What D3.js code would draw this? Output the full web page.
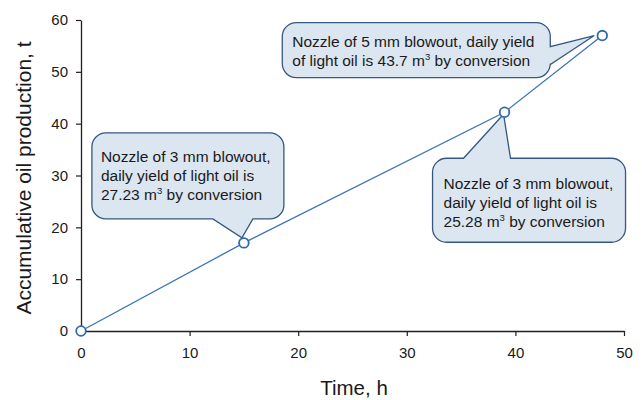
<!DOCTYPE html>
<html><head><meta charset="utf-8">
<script src="https://cdn.jsdelivr.net/npm/d3@7"></script>
<style>body{margin:0;background:#fff}svg{display:block}text{font-family:"Liberation Sans",Arial,sans-serif;fill:#1a1a1a}</style>
</head><body>
<script>
const timeH = [0, 15, 39, 48];
const oilT = [0, 17, 42.2, 57];
const xTicks = [0, 10, 20, 30, 40, 50];
const yTicks = [0, 10, 20, 30, 40, 50, 60];
const xLabel = "Time, h";
const yLabel = "Accumulative oil production, t";
const notes = [
  {i: 1, lines: ["Nozzle of 3 mm blowout,", "daily yield of light oil is", ["27.23 m", "3", " by conversion"]]},
  {i: 2, lines: ["Nozzle of 3 mm blowout,", "daily yield of light oil is", ["25.28 m", "3", " by conversion"]]},
  {i: 3, lines: ["Nozzle of 5 mm blowout, daily yield", ["of light oil is 43.7 m", "3", " by conversion"]]}
];
// callout layout (pixel offsets relative to anchor point)
const layout = {
  1: {box: [-152, -110, 40, -24], side: "bottom", base: [-31, 9], tip: [-2, -5], tdx: 9, tdy: 29},
  2: {box: [-72, 46, 121, 130], side: "top", base: [-41, 6], tip: [-1, 2], tdx: 11, tdy: 31},
  3: {box: [-320, -13, -52, 42], side: "right", base: [11, 29], tip: [-8, 0], tdx: 10, tdy: 24}
};

const W = 642, H = 400;
const svg = d3.select("body").append("svg").attr("width", W).attr("height", H);
const x = d3.scaleLinear().domain([0, 50]).range([81, 624]);
const y = d3.scaleLinear().domain([0, 60]).range([331, 20]);

const axisColor = "#231f20";
const gx = svg.append("g").attr("transform", "translate(0,331)")
  .call(d3.axisBottom(x).tickValues(xTicks).tickSize(5).tickSizeOuter(0).tickPadding(11));
const gy = svg.append("g").attr("transform", "translate(81,0)")
  .call(d3.axisLeft(y).tickValues(yTicks).tickSize(5).tickSizeOuter(0).tickPadding(8));
[gx, gy].forEach(g => {
  g.select(".domain").attr("stroke", axisColor).attr("stroke-width", 1.3);
  g.selectAll(".tick line").attr("stroke", axisColor).attr("stroke-width", 1.2);
  g.selectAll(".tick text").attr("font-size", 15).attr("font-family", "Liberation Sans, Arial, sans-serif").attr("fill", "#1a1a1a");
});

svg.append("text").attr("x", 354).attr("y", 395).attr("text-anchor", "middle")
  .attr("font-size", 20.5).text(xLabel);
svg.append("text").attr("transform", "translate(31,178) rotate(-90)").attr("text-anchor", "middle")
  .attr("font-size", 21).text(yLabel);

const data = timeH.map((t, i) => ({t, v: oilT[i]}));
const lineColor = "#3a74b7";
svg.append("path").datum(data)
  .attr("d", d3.line().x(d => x(d.t)).y(d => y(d.v)))
  .attr("fill", "none").attr("stroke", lineColor).attr("stroke-width", 1.3);

function calloutPath(px, py, L) {
  const [a, b, c, d] = L.box;
  const x0 = px + a, y0 = py + b, x1 = px + c, y1 = py + d, r = 14;
  const tx = px + L.tip[0], ty = py + L.tip[1];
  const p = d3.path();
  p.moveTo(x0 + r, y0);
  if (L.side === "top") { p.lineTo(px + L.base[0], y0); p.lineTo(tx, ty); p.lineTo(px + L.base[1], y0); }
  p.lineTo(x1 - r, y0); p.arcTo(x1, y0, x1, y0 + r, r);
  if (L.side === "right") { p.lineTo(x1, py + L.base[0]); p.lineTo(tx, ty); p.lineTo(x1, py + L.base[1]); }
  p.lineTo(x1, y1 - r); p.arcTo(x1, y1, x1 - r, y1, r);
  if (L.side === "bottom") { p.lineTo(px + L.base[1], y1); p.lineTo(tx, ty); p.lineTo(px + L.base[0], y1); }
  p.lineTo(x0 + r, y1); p.arcTo(x0, y1, x0, y1 - r, r);
  p.lineTo(x0, y0 + r); p.arcTo(x0, y0, x0 + r, y0, r);
  p.closePath();
  return p.toString();
}

notes.forEach(n => {
  const d = data[n.i], L = layout[n.i];
  const px = x(d.t), py = y(d.v);
  svg.append("path").attr("d", calloutPath(px, py, L))
    .attr("fill", "#dce6f1").attr("stroke", "#34587f").attr("stroke-width", 1.3);
  const tx = px + L.box[0] + L.tdx;
  const ty0 = py + L.box[1] + L.tdy;
  const txt = svg.append("text").attr("font-size", 15.5);
  n.lines.forEach((ln, k) => {
    const yy = ty0 + k * 19;
    if (typeof ln === "string") {
      txt.append("tspan").attr("x", tx).attr("y", yy).text(ln);
    } else {
      txt.append("tspan").attr("x", tx).attr("y", yy).text(ln[0]);
      txt.append("tspan").attr("dy", -6).attr("font-size", 9.5).text(ln[1]);
      txt.append("tspan").attr("dy", 6).text(ln[2]);
    }
  });
});

svg.selectAll("circle.pt").data(data).join("circle").attr("class", "pt")
  .attr("cx", d => x(d.t)).attr("cy", d => y(d.v)).attr("r", 4.8)
  .attr("fill", "#fff").attr("stroke", "#2f6aab").attr("stroke-width", 1.8);
</script>
</body></html>
